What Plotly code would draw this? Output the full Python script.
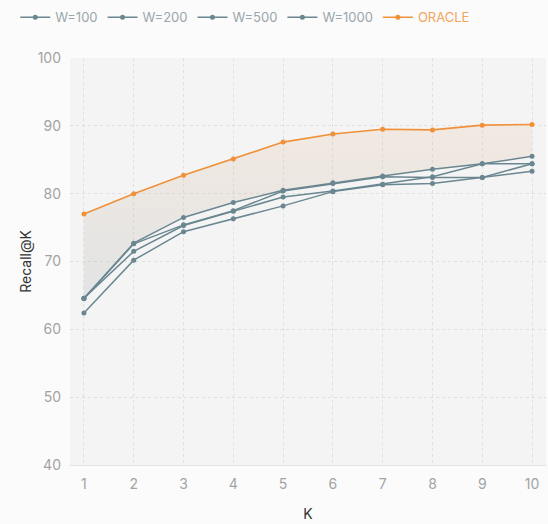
import plotly.graph_objects as go

# Recall@K for different window sizes W and the oracle upper bound
k_values = [1, 2, 3, 4, 5, 6, 7, 8, 9, 10]
recall_w100 = [62.4, 70.2, 74.4, 76.3, 78.2, 80.3, 81.3, 81.5, 82.4, 83.3]
recall_w200 = [64.6, 71.5, 75.3, 77.4, 79.5, 80.4, 81.4, 82.5, 84.4, 84.4]
recall_w500 = [64.5, 72.6, 75.4, 77.5, 80.4, 81.5, 82.5, 82.4, 82.4, 84.4]
recall_w1000 = [64.6, 72.7, 76.5, 78.7, 80.5, 81.6, 82.6, 83.6, 84.4, 85.5]
recall_oracle = [77.0, 80.0, 82.7, 85.1, 87.6, 88.8, 89.5, 89.4, 90.1, 90.2]

series = [
    ("W=100", recall_w100),
    ("W=200", recall_w200),
    ("W=500", recall_w500),
    ("W=1000", recall_w1000),
]

W_COLOR = "#6a8791"
ORACLE_COLOR = "#f0913a"
FONT = "Inter"

fig = go.Figure()

# upper envelope of the windowed runs, used as the lower edge of the gap band
best_w = [max(vals) for vals in zip(*[v for _, v in series])]
fig.add_trace(go.Scatter(
    x=k_values, y=best_w, mode="lines", line=dict(width=0),
    showlegend=False, hoverinfo="skip",
))
fig.add_trace(go.Scatter(
    x=k_values, y=recall_oracle, mode="lines", line=dict(width=0),
    fill="tonexty",
    fillgradient=dict(
        type="vertical", start=62, stop=91,
        colorscale=[[0, "rgba(150,165,172,0.22)"], [1, "rgba(235,190,150,0.20)"]],
    ),
    showlegend=False, hoverinfo="skip",
))

for name, vals in series:
    fig.add_trace(go.Scatter(
        x=k_values, y=vals, name=name, mode="lines+markers",
        line=dict(color=W_COLOR, width=1.5),
        marker=dict(color=W_COLOR, size=5),
    ))

fig.add_trace(go.Scatter(
    x=k_values, y=recall_oracle,
    name=f"<span style='color:#f2a55c'>ORACLE</span>", mode="lines+markers",
    line=dict(color=ORACLE_COLOR, width=1.6),
    marker=dict(color=ORACLE_COLOR, size=5),
))

grid = dict(showgrid=True, gridcolor="#e0e0e0", griddash="dot", gridwidth=1, zeroline=False)

fig.update_layout(
    width=548, height=524,
    margin=dict(l=70, r=2, t=49, b=59),
    paper_bgcolor="#fbfbfb",
    plot_bgcolor="#f4f4f4",
    font=dict(family=FONT, color="#a3a3a3", size=14),
    showlegend=True,
    legend=dict(
        orientation="h", x=-0.115, y=1.1, xanchor="left", yanchor="middle",
        traceorder="normal",
        font=dict(size=13, color="#9aa6ab"), itemwidth=30,
        bgcolor="rgba(0,0,0,0)",
    ),
    xaxis=dict(
        range=[0.72, 10.28], tickvals=k_values, ticks="", **grid,
        ticklabelstandoff=6,
        title=dict(text="K", font=dict(size=14, color="#333333"), standoff=18),
        showline=True, linecolor="#e4e4e4",
    ),
    yaxis=dict(
        range=[40, 100], tickvals=[40, 50, 60, 70, 80, 90, 100], ticks="", **grid,
        ticklabelstandoff=8,
        title=dict(text="Recall@K", font=dict(size=14, color="#333333"), standoff=2),
        showline=False,
    ),
)

fig.write_html("out.html")
